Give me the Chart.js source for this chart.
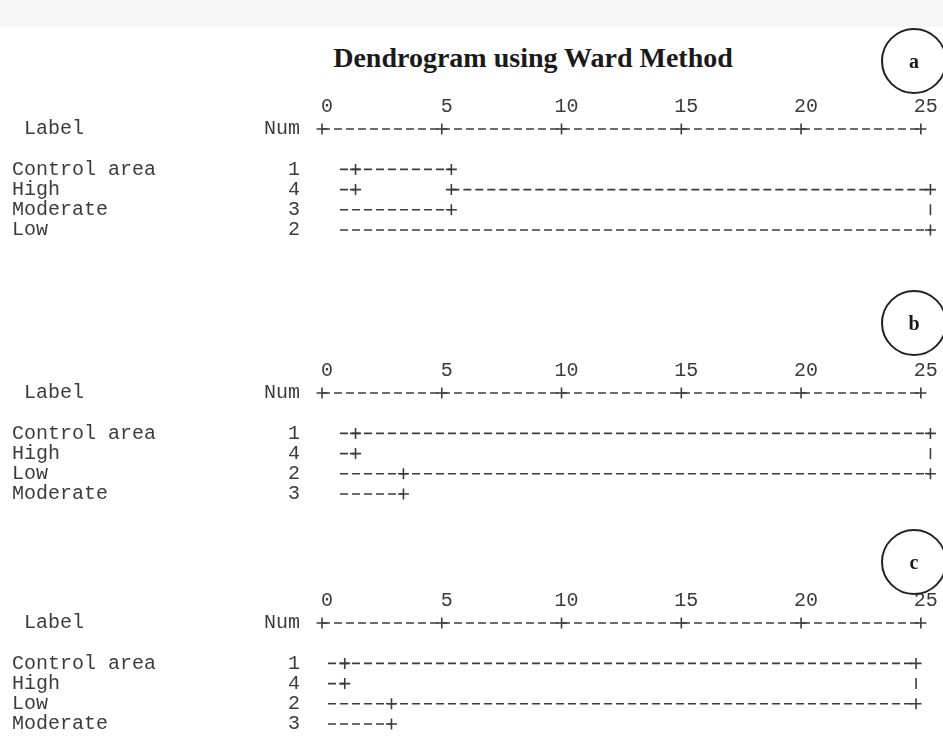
<!DOCTYPE html>
<html>
<head>
<meta charset="utf-8">
<script src="https://cdn.jsdelivr.net/npm/chart.js@4.4.1/dist/chart.umd.min.js"></script>
<style>
  html, body { margin: 0; padding: 0; background: #fff; }
  body { width: 943px; height: 755px; position: relative; overflow: hidden; }
  .band { position: absolute; left: 0; top: 0; width: 943px; height: 27px; background: #f6f6f6; }
  .title { position: absolute; left: 133px; width: 800px; top: 41px;
           font: bold 28px "Liberation Serif", serif; line-height: 34px;
           text-align: center; color: #1a1a1a; }
  .panel { position: absolute; left: 0; width: 943px; height: 175px; }
  .tag { position: absolute; width: 62px; height: 62px; border: 2px solid #222; border-radius: 50%;
         font: bold 20px "Liberation Serif", serif; line-height: 62px;
         text-align: center; color: #1a1a1a; }
</style>
</head>
<body>
<div class="band"></div>
<div class="title">Dendrogram using Ward Method</div>
<div class="panel" style="top:89px"><canvas id="chartA" width="943" height="175"></canvas></div>
<div class="panel" style="top:353px"><canvas id="chartB" width="943" height="175"></canvas></div>
<div class="panel" style="top:583px"><canvas id="chartC" width="943" height="175"></canvas></div>
<div class="tag" style="left:881px; top:28px">a</div>
<div class="tag" style="left:881px; top:290px">b</div>
<div class="tag" style="left:881px; top:529px">c</div>
<script>
// rescaled distance axis
const tickValues = [0, 5, 10, 15, 20, 25];

// panel a
const labelsA = ["Control area", "High", "Moderate", "Low"];
const numsA = ["1", "4", "3", "2"];
const joinsA = [1.4, 5.4, 25.4];
const startA = 0.75;

// panel b
const labelsB = ["Control area", "High", "Low", "Moderate"];
const numsB = ["1", "4", "2", "3"];
const joinsB = [1.4, 3.4, 25.4];
const startB = 0.75;

// panel c
const labelsC = ["Control area", "High", "Low", "Moderate"];
const numsC = ["1", "4", "2", "3"];
const joinsC = [0.95, 2.9, 24.8];
const startC = 0.25;

const HEAD = -2; // row of the "+----+" axis line
const ink = "#3c3c3c";
const mono = { family: "'Liberation Mono', 'DejaVu Sans Mono', monospace", size: 20 };

function seg(row, a, b) {
  return {
    data: [{ x: a, y: row }, { x: b, y: row }],
    showLine: true, borderColor: ink, borderWidth: 1.6, borderDash: [8, 4],
    pointRadius: 0, clip: false
  };
}

function marks(pts, style) {
  return {
    data: pts.map(p => ({ x: p[1], y: p[0] })),
    pointStyle: style, pointRadius: 5.5, pointRotation: style === "line" ? 90 : 0,
    borderColor: ink, borderWidth: 1.6, clip: false
  };
}

// panel a: (1,4) -> +3 -> +2
function treeA(s, j) {
  return [
    seg(0, s, j[1]), seg(1, s, j[0]), seg(1, j[1], j[2]), seg(2, s, j[1]), seg(3, s, j[2]),
    marks([[0, j[0]], [1, j[0]], [0, j[1]], [1, j[1]], [2, j[1]], [1, j[2]], [3, j[2]]], "cross"),
    marks([[2, j[2]]], "line")
  ];
}

// panels b, c: (1,4) and (2,3) -> joined
function treeB(s, j) {
  return [
    seg(0, s, j[2]), seg(1, s, j[0]), seg(2, s, j[2]), seg(3, s, j[1]),
    marks([[0, j[0]], [1, j[0]], [2, j[1]], [3, j[1]], [0, j[2]], [2, j[2]]], "cross"),
    marks([[1, j[2]]], "line")
  ];
}

function axisLine() {
  return [seg(HEAD, 0, 25), marks(tickValues.map(v => [HEAD, v]), "cross")];
}

function makePanel(id, names, nums, tree) {
  const rowTicks = [HEAD, 0, 1, 2, 3];
  new Chart(document.getElementById(id), {
    type: "scatter",
    data: { datasets: axisLine().concat(tree) },
    options: {
      responsive: false,
      animation: false,
      layout: { padding: { left: 12, right: 5, top: 0, bottom: 22 } },
      plugins: { legend: { display: false }, tooltip: { enabled: false } },
      scales: {
        x: {
          // room past 25 for the joins that sit just right of the last tick
          type: "linear", position: "top", min: 0, max: 25.5,
          afterBuildTicks: s => { s.ticks = tickValues.map(v => ({ value: v })); },
          afterFit: s => { s.height = 40; },
          grid: { display: false, drawTicks: false },
          border: { display: false },
          ticks: { padding: 10, labelOffset: 5, font: mono, color: ink, maxRotation: 0, autoSkip: false }
        },
        y: { type: "linear", reverse: true, min: HEAD, max: 3, display: false },
        yName: {
          axis: "y", type: "linear", position: "left", reverse: true, min: HEAD, max: 3, weight: 2,
          afterBuildTicks: s => { s.ticks = rowTicks.map(v => ({ value: v })); },
          afterFit: s => { s.width = 250; },
          grid: { display: false, drawTicks: false },
          border: { display: false },
          ticks: { crossAlign: "far", padding: 0, autoSkip: false, font: mono, color: ink,
                   callback: v => v === HEAD ? " Label" : names[v] }
        },
        yNum: {
          axis: "y", type: "linear", position: "left", reverse: true, min: HEAD, max: 3, weight: 1,
          afterBuildTicks: s => { s.ticks = rowTicks.map(v => ({ value: v })); },
          afterFit: s => { s.width = 60; },
          grid: { display: false, drawTicks: false },
          border: { display: false },
          ticks: { crossAlign: "near", padding: 22, autoSkip: false, font: mono, color: ink,
                   callback: v => v === HEAD ? "Num" : nums[v] }
        }
      }
    }
  });
}

makePanel("chartA", labelsA, numsA, treeA(startA, joinsA));
makePanel("chartB", labelsB, numsB, treeB(startB, joinsB));
makePanel("chartC", labelsC, numsC, treeB(startC, joinsC));
</script>
</body>
</html>
